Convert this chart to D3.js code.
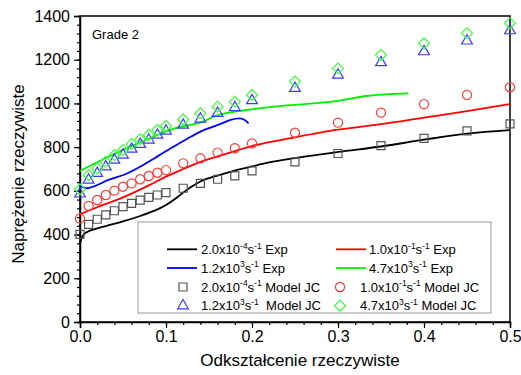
<!DOCTYPE html>
<html>
<head>
<meta charset="utf-8">
<script src="https://cdn.jsdelivr.net/npm/d3@7"></script>
<style>
  body { margin: 0; background: #fff; }
  svg text { font-family: "Liberation Sans", Arial, sans-serif; }
</style>
</head>
<body>
<svg id="chart" width="521" height="375"></svg>
<script>
// experimental curves (strain, stress)
var blackExp = [[0,360],[0.002,385],[0.005,403],[0.01,415],[0.02,428],[0.03,439],[0.05,460],[0.07,485],[0.09,515],[0.1,535],[0.11,562],[0.12,592],[0.13,620],[0.14,643],[0.16,670],[0.18,693],[0.2,712],[0.22,730],[0.25,750],[0.3,778],[0.35,803],[0.4,834],[0.45,862],[0.5,878]];
var redExp = [[0,493],[0.02,525],[0.05,570],[0.08,625],[0.1,665],[0.12,700],[0.14,733],[0.16,758],[0.18,782],[0.2,805],[0.25,845],[0.3,880],[0.35,905],[0.4,935],[0.45,965],[0.5,997]];
var blueExp = [[0,622],[0.008,612],[0.017,622],[0.033,650],[0.052,675],[0.072,715],[0.091,760],[0.11,805],[0.13,850],[0.145,880],[0.163,905],[0.175,925],[0.186,932],[0.191,925],[0.196,909]];
var greenExp = [[0,691],[0.033,756],[0.072,825],[0.11,886],[0.145,920],[0.155,940],[0.194,970],[0.233,988],[0.271,1000],[0.302,1013],[0.333,1034],[0.382,1046]];

// Johnson-Cook model points
var strains = [0,0.01,0.02,0.03,0.04,0.05,0.06,0.07,0.08,0.09,0.1,0.12,0.14,0.16,0.18,0.2,0.25,0.3,0.35,0.4,0.45,0.5];
var jcSquare = [401,447,470,490,509,528,543,558,570,581,592,612,634,653,669,691,733,771,807,840,874,906];
var jcCircle = [474,531,558,581,601,619,634,653,668,683,695,726,749,775,795,817,866,912,958,997,1039,1074];
var jcTriangle = [586,650,680,710,741,764,791,813,833,855,874,901,929,955,981,1013,1069,1130,1187,1237,1286,1333];
var jcDiamond = [607,672,703,733,764,787,814,836,856,878,897,927,955,985,1008,1039,1100,1160,1222,1275,1321,1367];

var xTicks = [0, 0.1, 0.2, 0.3, 0.4, 0.5];
var yTicks = [0, 200, 400, 600, 800, 1000, 1200, 1400];

var margin = {top: 16, left: 80},
    width = 430,
    height = 306;

var svg = d3.select("#chart");
var g = svg.append("g").attr("transform", "translate(" + margin.left + "," + margin.top + ")");

var x = d3.scaleLinear().domain([0, 0.5]).range([0, width]);
var y = d3.scaleLinear().domain([0, 1400]).range([height, 0]);

// frame
g.append("rect").attr("width", width).attr("height", height)
  .attr("fill", "none").attr("stroke", "#000").attr("stroke-width", 1.5);

// minor ticks
var xMinor = d3.axisBottom(x).tickValues(d3.range(0, 0.501, 0.02)).tickSize(3).tickFormat("");
var yMinor = d3.axisLeft(y).tickValues(d3.range(0, 1401, 40)).tickSize(3).tickFormat("");
g.append("g").attr("transform", "translate(0," + height + ")").call(xMinor).call(function(s) { s.select(".domain").remove(); });
g.append("g").call(yMinor).call(function(s) { s.select(".domain").remove(); });

var xAxis = d3.axisBottom(x).tickValues(xTicks).tickSize(6).tickPadding(3).tickFormat(d3.format(".1f"));
var yAxis = d3.axisLeft(y).tickValues(yTicks).tickSize(6).tickPadding(4).tickFormat(d3.format("d"));
g.append("g").attr("transform", "translate(0," + height + ")").call(xAxis);
g.append("g").call(yAxis);
g.selectAll(".tick line").attr("stroke", "#000").attr("stroke-width", 1.2);
g.selectAll(".domain").attr("stroke-width", 1.5);
g.selectAll(".tick text").attr("font-size", 16).attr("fill", "#000")
  .style("font-family", '"Liberation Sans", Arial, sans-serif');

// axis titles
svg.append("text").attr("x", 300).attr("y", 366).attr("text-anchor", "middle")
  .attr("font-size", 17).text("Odkształcenie rzeczywiste");
svg.append("text").attr("transform", "translate(24,174) rotate(-90)").attr("text-anchor", "middle")
  .attr("font-size", 17).text("Naprężenie rzeczywiste");

svg.append("text").attr("x", 92).attr("y", 39).attr("font-size", 13).text("Grade 2");

// curves
var line = d3.line().x(function(d) { return x(d[0]); }).y(function(d) { return y(d[1]); }).curve(d3.curveMonotoneX);
var curves = [
  {data: blackExp, color: "#000000"},
  {data: redExp, color: "#ff0000"},
  {data: blueExp, color: "#0000ff"},
  {data: greenExp, color: "#00ee00"}
];
curves.forEach(function(c) {
  g.append("path").datum(c.data).attr("d", line)
    .attr("fill", "none").attr("stroke", c.color).attr("stroke-width", 1.8);
});

// markers
var markers = [
  {vals: jcSquare, type: d3.symbolSquare, size: 64, color: "#555555", rot: 0},
  {vals: jcCircle, type: d3.symbolCircle, size: 66, color: "#ff3b3b", rot: 0},
  {vals: jcTriangle, type: d3.symbolTriangle, size: 50, color: "#3b3bff", rot: 0},
  {vals: jcDiamond, type: d3.symbolSquare, size: 60, color: "#3bff3b", rot: 45}
];
markers.forEach(function(m) {
  var sym = d3.symbol().type(m.type).size(m.size);
  g.append("g").selectAll("path").data(m.vals).join("path")
    .attr("d", sym)
    .attr("transform", function(d, i) { return "translate(" + x(strains[i]) + "," + y(d) + ") rotate(" + m.rot + ")"; })
    .attr("fill", "none").attr("stroke", m.color).attr("stroke-width", 1.2);
});

// legend
var legend = svg.append("g");
legend.append("rect").attr("x", 138).attr("y", 222).attr("width", 353).attr("height", 91)
  .attr("fill", "#fff").attr("stroke", "#999").attr("stroke-width", 1);

var legendItems = [
  {kind: "line", color: "#000000", lx: 167, tx: 201, row: 0, base: "2.0x10", e1: "-4", tail: " Exp"},
  {kind: "line", color: "#ff0000", lx: 336, tx: 369, row: 0, base: "1.0x10", e1: "-1", tail: " Exp"},
  {kind: "line", color: "#0000ff", lx: 167, tx: 201, row: 1, base: "1.2x10", e1: "3", tail: " Exp"},
  {kind: "line", color: "#00ee00", lx: 336, tx: 369, row: 1, base: "4.7x10", e1: "3", tail: " Exp"},
  {kind: "sym", m: 0, lx: 183, tx: 201, row: 2, base: "2.0x10", e1: "-4", tail: " Model JC"},
  {kind: "sym", m: 1, lx: 340, tx: 360, row: 2, base: "1.0x10", e1: "-1", tail: " Model JC"},
  {kind: "sym", m: 2, lx: 183, tx: 201, row: 3, base: "1.2x10", e1: "3", tail: "  Model JC"},
  {kind: "sym", m: 3, lx: 340, tx: 360, row: 3, base: "4.7x10", e1: "3", tail: " Model JC"}
];
var rowY = [249.3, 268, 287, 305.7];

legendItems.forEach(function(it) {
  var cy = rowY[it.row];
  if (it.kind === "line") {
    legend.append("line").attr("x1", it.lx).attr("x2", it.lx + 30).attr("y1", cy).attr("y2", cy)
      .attr("stroke", it.color).attr("stroke-width", 1.8);
  } else {
    var m = markers[it.m];
    legend.append("path").attr("d", d3.symbol().type(m.type).size(m.size))
      .attr("transform", "translate(" + it.lx + "," + cy + ") rotate(" + m.rot + ")")
      .attr("fill", "none").attr("stroke", m.color).attr("stroke-width", 1.2);
  }
  var t = legend.append("text").attr("x", it.tx).attr("y", cy + 4.7).attr("font-size", 13)
    .attr("xml:space", "preserve").style("white-space", "pre");
  t.append("tspan").text(it.base);
  t.append("tspan").attr("dy", -5.5).attr("font-size", 8.5).text(it.e1);
  t.append("tspan").attr("dy", 5.5).text("s");
  t.append("tspan").attr("dy", -5.5).attr("font-size", 8.5).text("-1");
  t.append("tspan").attr("dy", 5.5).text(it.tail);
});
</script>
</body>
</html>
